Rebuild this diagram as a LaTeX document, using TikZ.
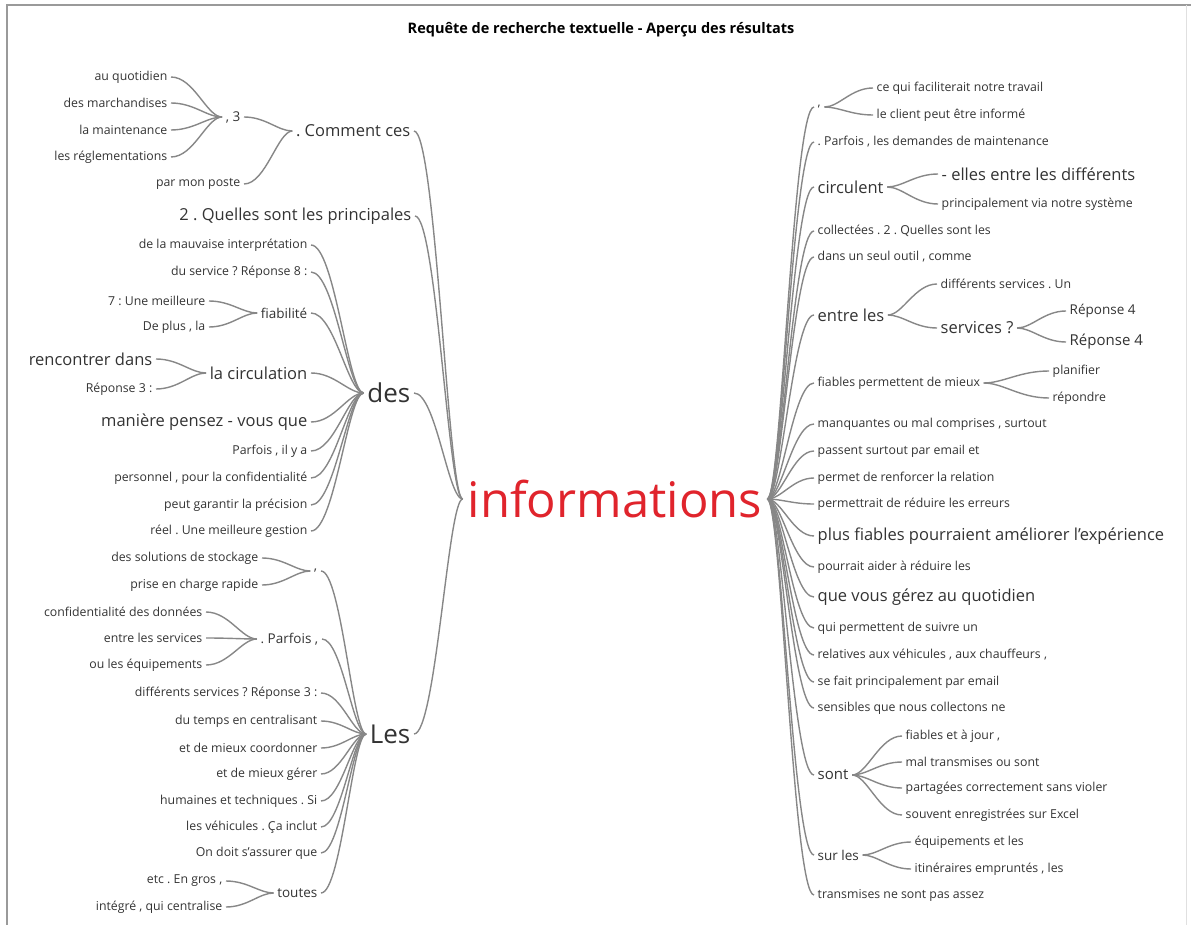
\documentclass[tikz,border=0pt]{standalone}
\usepackage{fontspec}
\setmainfont{Open Sans}
\usetikzlibrary{calc}
\frenchspacing
\definecolor{txt}{HTML}{333333}
\definecolor{linkgray}{HTML}{878787}
\definecolor{rootred}{HTML}{E0242C}
\definecolor{framegray}{HTML}{9A9A9A}
% word-tree connector: brace-like cubic from parent anchor to child anchor
\newcommand\wlink[2]{\draw[wline] let \p1=(#1), \p2=(#2) in
  (\p1) .. controls ({\x1+0.3*(\x2-\x1)},\y1) and ({\x1+0.55*(\x2-\x1)},\y2) .. (\p2);}
\begin{document}
\begin{tikzpicture}[x=1pt,y=-1pt,
  wt/.style={text=txt, inner xsep=3.5pt, inner ysep=0.5pt},
  lw/.style={wt, anchor=east},
  rw/.style={wt, anchor=west},
  fs/.style={font=\fontsize{12.3}{14}\selectfont},
  fsb/.style={font=\fontsize{13.5}{15}\selectfont},
  fsc/.style={font=\fontsize{15}{17}\selectfont},
  fm/.style={font=\fontsize{16.5}{19}\selectfont},
  fl/.style={font=\fontsize{26}{30}\selectfont},
  wline/.style={draw=linkgray, line width=1.4pt}]
\useasboundingbox (0,0) rectangle (1191,925);
% frame
\draw[framegray, line width=1.2pt] (7,925) -- (7,5) -- (1191,5);
\draw[black!12, line width=1pt] (1186,5) -- (1186,925);

\node[font=\bfseries\fontsize{14.5}{17}\selectfont, text=black] (title) at (601,30)
  {Requête de recherche textuelle - Aperçu des résultats};

% central word
\node[text=rootred, font=\fontsize{49}{56}\selectfont, inner xsep=5pt, inner ysep=0pt] (root) at (615,499) {informations};

% ---------- left side ----------
\node[lw,fm] (comment) at (414,131) {. Comment ces};
\node[lw,fm] (quelles) at (415,216) {2 . Quelles sont les principales};
\node[lw,fl] (des) at (414,393) {des};
\node[lw,fl] (les) at (414,734) {Les};

\node[lw,fsb] (c3) at (244,117) {, 3};
\node[lw,fs] (poste) at (244,184) {par mon poste};
\node[lw,fs] (q1) at (171,77) {au quotidien};
\node[lw,fs] (q2) at (171,103) {des marchandises};
\node[lw,fs] (q3) at (171,130) {la maintenance};
\node[lw,fs] (q4) at (171,157) {les réglementations};

\node[lw,fs] (d1) at (311,245) {de la mauvaise interprétation};
\node[lw,fs] (d2) at (311,272) {du service ? Réponse 8 :};
\node[lw,fsb] (d3) at (311,313) {fiabilité};
\node[lw,fm] (d4) at (311,373) {la circulation};
\node[lw,fm] (d5) at (311,422) {manière pensez - vous que};
\node[lw,fs] (d6) at (311,451) {Parfois , il y a};
\node[lw,fs] (d7) at (311,478) {personnel , pour la confidentialité};
\node[lw,fs] (d8) at (311,505) {peut garantir la précision};
\node[lw,fs] (d9) at (311,531) {réel . Une meilleure gestion};
\node[lw,fs] (f1) at (209,301) {7 : Une meilleure};
\node[lw,fs] (f2) at (209,327) {De plus , la};
\node[lw,fm] (g1) at (156,359) {rencontrer dans};
\node[lw,fs] (g2) at (156,389) {Réponse 3 :};

\node[lw,fsb] (e1) at (321,571) {,};
\node[lw,fs] (h1) at (262,558) {des solutions de stockage};
\node[lw,fs] (h2) at (262,585) {prise en charge rapide};
\node[lw,fsb] (e2) at (322,639) {. Parfois ,};
\node[lw,fs] (p1) at (206,612) {confidentialité des données};
\node[lw,fs] (p2) at (206,638) {entre les services};
\node[lw,fs] (p3) at (206,665) {ou les équipements};
\node[lw,fs] (e3) at (321,693) {différents services ? Réponse 3 :};
\node[lw,fs] (e4) at (321,721) {du temps en centralisant};
\node[lw,fs] (e5) at (321,748) {et de mieux coordonner};
\node[lw,fs] (e6) at (321,774) {et de mieux gérer};
\node[lw,fs] (e7) at (321,801) {humaines et techniques . Si};
\node[lw,fs] (e8) at (321,827) {les véhicules . Ça inclut};
\node[lw,fs] (e9) at (321,853) {On doit s'assurer que};
\node[lw,fsb] (e10) at (321,893) {toutes};
\node[lw,fs] (t1) at (226,881) {etc . En gros ,};
\node[lw,fs] (t2) at (226,907) {intégré , qui centralise};

% ---------- right side ----------
\node[rw,fs] (r1) at (814,107) {,};
\node[rw,fs] (k1) at (873,88) {ce qui faciliterait notre travail};
\node[rw,fs] (k2) at (873,115) {le client peut être informé};
\node[rw,fs] (r2) at (814,142) {. Parfois , les demandes de maintenance};
\node[rw,fm] (r3) at (814,187) {circulent};
\node[rw,fm] (m1) at (938,174) {- elles entre les différents};
\node[rw,fs] (m2) at (938,204) {principalement via notre système};
\node[rw,fs] (r4) at (814,231) {collectées . 2 . Quelles sont les};
\node[rw,fs] (r5) at (814,257) {dans un seul outil , comme};
\node[rw,fm] (r6) at (814,315) {entre les};
\node[rw,fs] (n1) at (937,284) {différents services . Un};
\node[rw,fm] (n2) at (937,328) {services ?};
\node[rw,fsb] (o1) at (1066,311) {Réponse 4};
\node[rw,fsc] (o2) at (1066,342) {Réponse 4};
\node[rw,fs] (r7) at (814,383) {fiables permettent de mieux};
\node[rw,fs] (w1) at (1049,371) {planifier};
\node[rw,fs] (w2) at (1049,398) {répondre};
\node[rw,fs] (r8) at (814,424) {manquantes ou mal comprises , surtout};
\node[rw,fs] (r9) at (814,451) {passent surtout par email et};
\node[rw,fs] (r10) at (814,478) {permet de renforcer la relation};
\node[rw,fs] (r11) at (814,504) {permettrait de réduire les erreurs};
\node[rw,fm] (r12) at (814,536) {plus fiables pourraient améliorer l'expérience};
\node[rw,fs] (r13) at (814,567) {pourrait aider à réduire les};
\node[rw,fm] (r14) at (814,597) {que vous gérez au quotidien};
\node[rw,fs] (r15) at (814,628) {qui permettent de suivre un};
\node[rw,fs] (r16) at (814,655) {relatives aux véhicules , aux chauffeurs ,};
\node[rw,fs] (r17) at (814,682) {se fait principalement par email};
\node[rw,fs] (r18) at (814,708) {sensibles que nous collectons ne};
\node[rw,fsc] (r19) at (814,775) {sont};
\node[rw,fs] (z1) at (902,736) {fiables et à jour ,};
\node[rw,fs] (z2) at (902,762) {mal transmises ou sont};
\node[rw,fs] (z3) at (902,788) {partagées correctement sans violer};
\node[rw,fs] (z4) at (902,815) {souvent enregistrées sur Excel};
\node[rw,fsb] (r20) at (814,855) {sur les};
\node[rw,fs] (y1) at (911,842) {équipements et les};
\node[rw,fs] (y2) at (911,869) {itinéraires empruntés , les};
\node[rw,fs] (r21) at (814,895) {transmises ne sont pas assez};

% ---------- connectors, left ----------
\foreach \c in {comment,quelles,des,les} {\wlink{root.west}{\c.east}}
\foreach \c in {c3,poste} {\wlink{comment.west}{\c.east}}
\foreach \c in {q1,q2,q3,q4} {\wlink{c3.west}{\c.east}}
\foreach \c in {d1,d2,d3,d4,d5,d6,d7,d8,d9} {\wlink{des.west}{\c.east}}
\foreach \c in {f1,f2} {\wlink{d3.west}{\c.east}}
\foreach \c in {g1,g2} {\wlink{d4.west}{\c.east}}
\foreach \c in {e1,e2,e3,e4,e5,e6,e7,e8,e9,e10} {\wlink{les.west}{\c.east}}
\foreach \c in {h1,h2} {\wlink{e1.west}{\c.east}}
\foreach \c in {p1,p2,p3} {\wlink{e2.west}{\c.east}}
\foreach \c in {t1,t2} {\wlink{e10.west}{\c.east}}

% ---------- connectors, right ----------
\foreach \c in {r1,r2,r3,r4,r5,r6,r7,r8,r9,r10,r11,r12,r13,r14,r15,r16,r17,r18,r19,r20,r21} {\wlink{root.east}{\c.west}}
\foreach \c in {k1,k2} {\wlink{r1.east}{\c.west}}
\foreach \c in {m1,m2} {\wlink{r3.east}{\c.west}}
\foreach \c in {n1,n2} {\wlink{r6.east}{\c.west}}
\foreach \c in {o1,o2} {\wlink{n2.east}{\c.west}}
\foreach \c in {w1,w2} {\wlink{r7.east}{\c.west}}
\foreach \c in {z1,z2,z3,z4} {\wlink{r19.east}{\c.west}}
\foreach \c in {y1,y2} {\wlink{r20.east}{\c.west}}
\end{tikzpicture}
\end{document}
